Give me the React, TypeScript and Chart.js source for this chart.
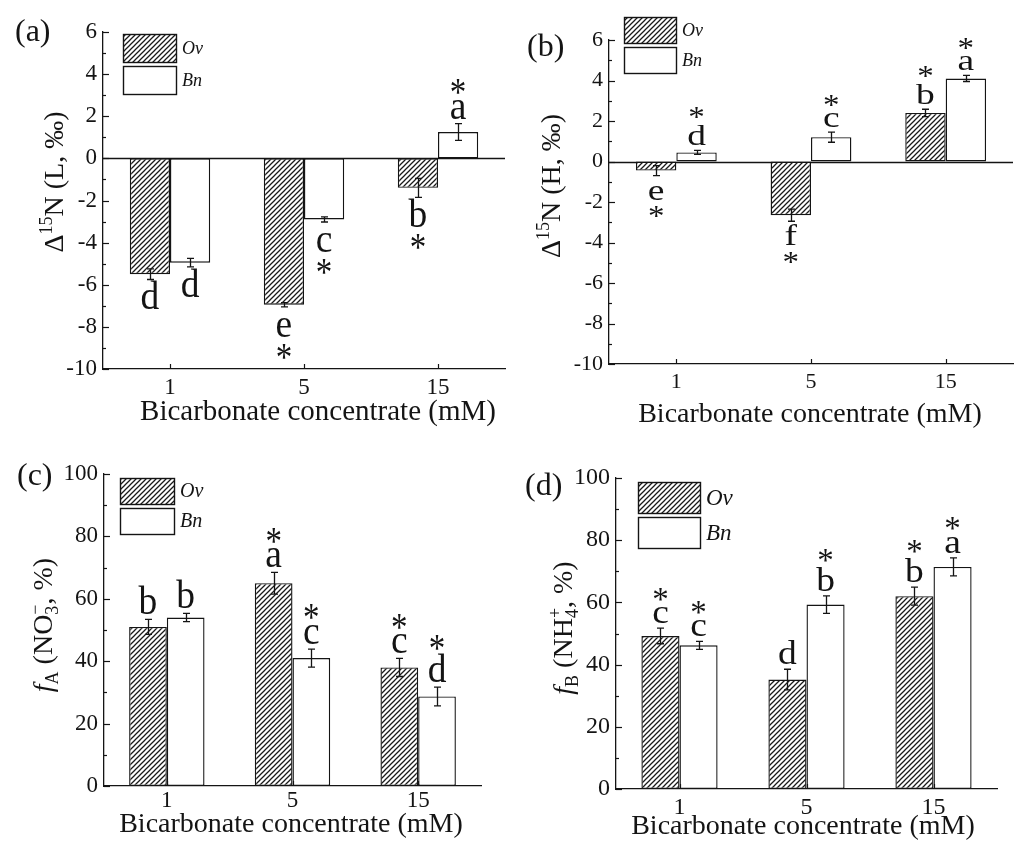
import React, { useEffect, useRef } from 'react';
import { Chart, registerables } from 'chart.js';

Chart.register(...registerables);

const FONT = "'Liberation Serif', 'DejaVu Serif', serif";
const INK = '#141414';
const PAGE_W = 1014;
const PAGE_H = 841;

// ---------------- data ----------------
const categories = ['1', '5', '15'];
const seriesLabels = ['Ov', 'Bn'];
const xTitleText = 'Bicarbonate concentrate (mM)';
const deltaTickLabels = [-10, -8, -6, -4, -2, 0, 2, 4, 6];
const percentTickLabels = [0, 20, 40, 60, 80, 100];

// (a) Δ15N (L)
const aOv = [-5.5, -6.95, -1.4];
const aOvErr = [0.25, 0.1, 0.45];
const aBn = [-4.95, -2.9, 1.25];
const aBnErr = [0.2, 0.12, 0.4];
const aOvLetters = ['d', 'e', 'b'];
const aBnLetters = ['d', 'c', 'a'];
const aOvStars = [false, true, true];
const aBnStars = [false, true, true];

// (b) Δ15N (H)
const bOv = [-0.45, -2.65, 2.4];
const bOvErr = [0.25, 0.3, 0.18];
const bBn = [0.45, 1.2, 4.1];
const bBnErr = [0.1, 0.25, 0.15];
const bOvLetters = ['e', 'f', 'b'];
const bBnLetters = ['d', 'c', 'a'];
const bOvStars = [true, true, true];
const bBnStars = [true, true, true];

// (c) fA (NO3-)
const cOv = [51, 65, 38];
const cOvErr = [2.4, 3.5, 2.9];
const cBn = [54, 41, 28.7];
const cBnErr = [1.3, 2.9, 3.0];
const cOvLetters = ['b', 'a', 'c'];
const cBnLetters = ['b', 'c', 'd'];
const cOvStars = [false, true, true];
const cBnStars = [false, true, true];

// (d) fB (NH4+)
const dOv = [49.2, 35.2, 62];
const dOvErr = [2.5, 3.3, 2.9];
const dBn = [46.2, 59.3, 71.4];
const dBnErr = [1.3, 2.8, 2.9];
const dOvLetters = ['c', 'd', 'b'];
const dBnLetters = ['c', 'b', 'a'];
const dOvStars = [true, false, true];
const dBnStars = [true, true, true];

// ---------------- types ----------------
type Seg = { t: string; size: number; italic?: boolean; dy?: number; stack?: boolean };
type Box = { l: number; t: number; r: number; b: number };
type PanelCfg = {
  key: string;
  ov: number[]; ovErr: number[]; bn: number[]; bnErr: number[];
  ovLetters: string[]; bnLetters: string[]; ovStars: boolean[]; bnStars: boolean[];
  yMin: number; yMax: number; yStep: number; yMajor: number[];
  area: Box;
  tickSize: number; xTickPad: number;
  panelLabel: string; panelLabelPos: [number, number];
  yTitle: Seg[]; yTitlePos: [number, number];
  xTitlePos: [number, number]; xTitleSize: number;
  legend: { x: number; y: number; w: number; h: number; gap: number; size: number };
  letterSY: number;
};

const deltaTitle = (tag: string): Seg[] => [
  { t: 'Δ', size: 28 },
  { t: '15', size: 18, dy: -11 },
  { t: `N (${tag}, ‰)`, size: 28 },
];
const fTitle = (sub: string, ion: string, ionSub: string, ionSup: string): Seg[] => [
  { t: 'f', size: 28, italic: true },
  { t: sub, size: 18, dy: 6 },
  { t: ` (${ion}`, size: 28 },
  { t: ionSub, size: 18, dy: 6 },
  { t: ionSup, size: 18, dy: -11, stack: true },
  { t: ', %)', size: 28 },
];

const panels: PanelCfg[] = [
  {
    key: 'a', ov: aOv, ovErr: aOvErr, bn: aBn, bnErr: aBnErr,
    ovLetters: aOvLetters, bnLetters: aBnLetters, ovStars: aOvStars, bnStars: aBnStars,
    yMin: -10, yMax: 6, yStep: 1, yMajor: deltaTickLabels,
    area: { l: 103, t: 32, r: 505, b: 369 },
    tickSize: 23, xTickPad: 7,
    panelLabel: '(a)', panelLabelPos: [15, 33],
    yTitle: deltaTitle('L'), yTitlePos: [53, 182],
    xTitlePos: [318, 412], xTitleSize: 29,
    legend: { x: 123, y: 34, w: 53, h: 28, gap: 4, size: 18 },
    letterSY: 1.3,
  },
  {
    key: 'b', ov: bOv, ovErr: bOvErr, bn: bBn, bnErr: bBnErr,
    ovLetters: bOvLetters, bnLetters: bBnLetters, ovStars: bOvStars, bnStars: bBnStars,
    yMin: -10, yMax: 6, yStep: 1, yMajor: deltaTickLabels,
    area: { l: 609, t: 40, r: 1013, b: 364 },
    tickSize: 22, xTickPad: 7,
    panelLabel: '(b)', panelLabelPos: [527, 48],
    yTitle: deltaTitle('H'), yTitlePos: [550, 186],
    xTitlePos: [810, 415], xTitleSize: 28,
    legend: { x: 624, y: 17, w: 52, h: 26, gap: 4, size: 18 },
    letterSY: 1.0,
  },
  {
    key: 'c', ov: cOv, ovErr: cOvErr, bn: cBn, bnErr: cBnErr,
    ovLetters: cOvLetters, bnLetters: cBnLetters, ovStars: cOvStars, bnStars: cBnStars,
    yMin: 0, yMax: 100, yStep: 10, yMajor: percentTickLabels,
    area: { l: 104, t: 474, r: 481, b: 786 },
    tickSize: 23, xTickPad: 3,
    panelLabel: '(c)', panelLabelPos: [17, 477],
    yTitle: fTitle('A', 'NO', '3', '−'), yTitlePos: [42, 625],
    xTitlePos: [291, 825], xTitleSize: 28,
    legend: { x: 120, y: 478, w: 54, h: 26, gap: 4, size: 20 },
    letterSY: 1.3,
  },
  {
    key: 'd', ov: dOv, ovErr: dOvErr, bn: dBn, bnErr: dBnErr,
    ovLetters: dOvLetters, bnLetters: dBnLetters, ovStars: dOvStars, bnStars: dBnStars,
    yMin: 0, yMax: 100, yStep: 10, yMajor: percentTickLabels,
    area: { l: 616, t: 478, r: 997, b: 789 },
    tickSize: 24, xTickPad: 7,
    panelLabel: '(d)', panelLabelPos: [525, 487],
    yTitle: fTitle('B', 'NH', '4', '+'), yTitlePos: [562, 628],
    xTitlePos: [803, 827], xTitleSize: 28,
    legend: { x: 638, y: 482, w: 62, h: 31, gap: 4, size: 23 },
    letterSY: 1.12,
  },
];

// ---------------- drawing helpers ----------------
function makeHatch(): CanvasPattern | string {
  const tc = document.createElement('canvas');
  const s = 5;
  tc.width = s; tc.height = s;
  const g = tc.getContext('2d');
  if (!g) return '#777';
  g.fillStyle = '#ffffff';
  g.fillRect(0, 0, s, s);
  g.strokeStyle = '#1a1a1a';
  g.lineWidth = 1.25;
  g.beginPath();
  g.moveTo(0, s); g.lineTo(s, 0);
  g.moveTo(-1, 1); g.lineTo(1, -1);
  g.moveTo(s - 1, s + 1); g.lineTo(s + 1, s - 1);
  g.stroke();
  const p = g.createPattern(tc, 'repeat');
  return p || '#777';
}

function font(size: number, italic = false) {
  return `${italic ? 'italic ' : ''}${size}px ${FONT}`;
}

function drawRich(ctx: CanvasRenderingContext2D, segs: Seg[], cx: number, cy: number, rot: number) {
  const starts: number[] = [];
  let cursor = 0, lastStart = 0, lastW = 0;
  segs.forEach((s) => {
    ctx.font = font(s.size, s.italic);
    const w = ctx.measureText(s.t).width;
    if (s.stack) {
      starts.push(lastStart);
      cursor = lastStart + Math.max(lastW, w);
    } else {
      starts.push(cursor);
      lastStart = cursor; lastW = w;
      cursor += w;
    }
  });
  const total = cursor;
  ctx.save();
  ctx.translate(cx, cy);
  ctx.rotate(rot);
  ctx.fillStyle = INK;
  ctx.textAlign = 'left';
  ctx.textBaseline = 'alphabetic';
  const base = 28 * 0.34;
  segs.forEach((s, i) => {
    ctx.font = font(s.size, s.italic);
    ctx.fillText(s.t, starts[i] - total / 2, base + (s.dy || 0));
  });
  ctx.restore();
}

const LETTER_SIZE = 30;
const LETTER_SX = 1.25;
const STAR_GAP = 13;

function drawLetter(ctx: CanvasRenderingContext2D, t: string, x: number, baseline: number, sy: number) {
  ctx.save();
  ctx.translate(x, baseline);
  ctx.scale(LETTER_SX, sy);
  ctx.font = font(LETTER_SIZE);
  ctx.textAlign = 'center';
  ctx.textBaseline = 'alphabetic';
  ctx.fillStyle = INK;
  ctx.fillText(t, 0, 0);
  ctx.restore();
}

function drawStar(ctx: CanvasRenderingContext2D, x: number, yc: number, sy: number) {
  ctx.save();
  ctx.font = font(LETTER_SIZE);
  const m = ctx.measureText('*');
  const off = (m.actualBoundingBoxDescent - m.actualBoundingBoxAscent) / 2;
  ctx.translate(x, yc - off * sy);
  ctx.scale(1.1, sy);
  ctx.textAlign = 'center';
  ctx.textBaseline = 'alphabetic';
  ctx.fillStyle = INK;
  ctx.fillText('*', 0, 0);
  ctx.restore();
}

function makePlugin(cfg: PanelCfg) {
  return {
    id: 'panelDecor' + cfg.key,
    beforeDatasetsDraw(chart: any) {
      const { ctx, chartArea: ca, scales } = chart;
      const y = scales.y;
      if (cfg.yMin < 0 && cfg.yMax > 0) {
        const py = Math.round(y.getPixelForValue(0)) + 0.5;
        ctx.save();
        ctx.strokeStyle = INK;
        ctx.lineWidth = 1.3;
        ctx.beginPath();
        ctx.moveTo(ca.left, py);
        ctx.lineTo(ca.right, py);
        ctx.stroke();
        ctx.restore();
      }
    },
    afterDraw(chart: any) {
      const { ctx, chartArea: ca, scales } = chart;
      const y = scales.y;
      const x = scales.x;
      ctx.save();
      ctx.strokeStyle = INK;
      ctx.lineWidth = 1.2;

      // axis tick marks (inward)
      y.ticks.forEach((t: any) => {
        const major = cfg.yMajor.some((m) => Math.abs(m - t.value) < 1e-6);
        const py = Math.round(y.getPixelForValue(t.value)) + 0.5;
        ctx.beginPath();
        ctx.moveTo(ca.left, py);
        ctx.lineTo(ca.left + (major ? 6 : 3), py);
        ctx.stroke();
      });
      categories.forEach((_c, i) => {
        const px = Math.round(x.getPixelForTick(i)) + 0.5;
        ctx.beginPath();
        ctx.moveTo(px, ca.bottom);
        ctx.lineTo(px, ca.bottom - 5);
        ctx.stroke();
      });

      // error bars, letters, stars
      ctx.font = font(LETTER_SIZE);
      const ascD = ctx.measureText('d').actualBoundingBoxAscent;
      const sy = cfg.letterSY;
      const groups = [
        { vals: cfg.ov, errs: cfg.ovErr, letters: cfg.ovLetters, stars: cfg.ovStars },
        { vals: cfg.bn, errs: cfg.bnErr, letters: cfg.bnLetters, stars: cfg.bnStars },
      ];
      groups.forEach((g, di) => {
        const meta = chart.getDatasetMeta(di);
        g.vals.forEach((v, i) => {
          const bar = meta.data[i];
          const bx = Math.round(bar.x) + 0.5;
          const e = g.errs[i];
          const yTop = y.getPixelForValue(v + e);
          const yBot = y.getPixelForValue(v - e);
          ctx.strokeStyle = INK;
          ctx.lineWidth = 1.3;
          ctx.beginPath();
          ctx.moveTo(bx, yTop); ctx.lineTo(bx, yBot);
          ctx.moveTo(bx - 3.5, yTop); ctx.lineTo(bx + 3.5, yTop);
          ctx.moveTo(bx - 3.5, yBot); ctx.lineTo(bx + 3.5, yBot);
          ctx.stroke();

          const letter = g.letters[i];
          ctx.font = font(LETTER_SIZE);
          const asc = ctx.measureText(letter).actualBoundingBoxAscent;
          if (v >= 0) {
            const baseline = yTop - 5;
            drawLetter(ctx, letter, bar.x, baseline, sy);
            if (g.stars[i]) {
              const letterTop = baseline - asc * sy;
              drawStar(ctx, bar.x, letterTop - STAR_GAP, sy);
            }
          } else {
            const baseline = yBot + 4 + ascD * sy;
            drawLetter(ctx, letter, bar.x, baseline, sy);
            if (g.stars[i]) {
              drawStar(ctx, bar.x, baseline + 12 * sy, sy);
            }
          }
        });
      });

      // legend
      const L = cfg.legend;
      chart.data.datasets.forEach((ds: any, i: number) => {
        const by = L.y + i * (L.h + L.gap);
        ctx.fillStyle = ds.backgroundColor;
        ctx.fillRect(L.x, by, L.w, L.h);
        ctx.strokeStyle = INK;
        ctx.lineWidth = 1.4;
        ctx.strokeRect(L.x + 0.5, by + 0.5, L.w, L.h);
        ctx.fillStyle = INK;
        ctx.font = font(L.size, true);
        ctx.textAlign = 'left';
        ctx.textBaseline = 'middle';
        ctx.fillText(ds.label, L.x + L.w + 6, by + L.h / 2 + 1);
      });

      // titles
      ctx.fillStyle = INK;
      ctx.font = font(cfg.xTitleSize);
      ctx.textAlign = 'center';
      ctx.textBaseline = 'middle';
      ctx.fillText(xTitleText, cfg.xTitlePos[0], cfg.xTitlePos[1]);
      drawRich(ctx, cfg.yTitle, cfg.yTitlePos[0], cfg.yTitlePos[1], -Math.PI / 2);

      ctx.font = font(32);
      ctx.textAlign = 'left';
      ctx.textBaseline = 'middle';
      ctx.fillText(cfg.panelLabel, cfg.panelLabelPos[0], cfg.panelLabelPos[1]);
      ctx.restore();
    },
  };
}

const Y_AXIS_W = 60;
const X_AXIS_H = 40;

function PanelChart({ cfg }: { cfg: PanelCfg }) {
  const ref = useRef<HTMLCanvasElement>(null);
  useEffect(() => {
    const canvas = ref.current;
    if (!canvas) return;
    const hatch = makeHatch();
    const a = cfg.area;
    const chart = new Chart(canvas, {
      type: 'bar',
      data: {
        labels: categories,
        datasets: [
          {
            label: seriesLabels[0], data: cfg.ov, backgroundColor: hatch as any,
            borderColor: INK, borderWidth: 1.4, borderSkipped: false,
            categoryPercentage: 0.6, barPercentage: 1.0,
          },
          {
            label: seriesLabels[1], data: cfg.bn, backgroundColor: '#ffffff',
            borderColor: INK, borderWidth: 1.4, borderSkipped: false,
            categoryPercentage: 0.6, barPercentage: 1.0,
          },
        ],
      },
      options: {
        responsive: false,
        animation: false,
        devicePixelRatio: 1,
        events: [],
        layout: {
          padding: {
            left: a.l - Y_AXIS_W,
            top: a.t,
            right: PAGE_W - a.r,
            bottom: PAGE_H - a.b - X_AXIS_H,
          },
        },
        plugins: {
          legend: { display: false },
          tooltip: { enabled: false },
          title: { display: false },
        },
        scales: {
          x: {
            type: 'category',
            offset: true,
            grid: { display: false, drawTicks: false },
            border: { display: true, color: INK, width: 1.3 },
            ticks: {
              color: INK, padding: cfg.xTickPad, maxRotation: 0, autoSkip: false,
              font: { family: FONT, size: cfg.tickSize, lineHeight: 1 },
            },
            afterFit: (s: any) => { s.height = X_AXIS_H; },
          },
          y: {
            type: 'linear',
            min: cfg.yMin,
            max: cfg.yMax,
            grid: { display: false, drawTicks: false },
            border: { display: true, color: INK, width: 1.3 },
            ticks: {
              stepSize: cfg.yStep, autoSkip: false, color: INK, padding: 6,
              font: { family: FONT, size: cfg.tickSize, lineHeight: 1 },
              callback: (v: any) => (cfg.yMajor.some((m) => Math.abs(m - Number(v)) < 1e-6) ? String(v) : ''),
            },
            afterFit: (s: any) => { s.width = Y_AXIS_W; },
          },
        },
      } as any,
      plugins: [makePlugin(cfg)],
    });
    return () => chart.destroy();
  }, [cfg]);
  return (
    <canvas
      ref={ref}
      width={PAGE_W}
      height={PAGE_H}
      style={{ position: 'absolute', left: 0, top: 0, width: PAGE_W, height: PAGE_H }}
    />
  );
}

export default function App() {
  return (
    <div style={{ position: 'absolute', left: 0, top: 0, width: PAGE_W, height: PAGE_H, background: '#ffffff', overflow: 'hidden' }}>
      {panels.map((p) => (
        <PanelChart key={p.key} cfg={p} />
      ))}
    </div>
  );
}
